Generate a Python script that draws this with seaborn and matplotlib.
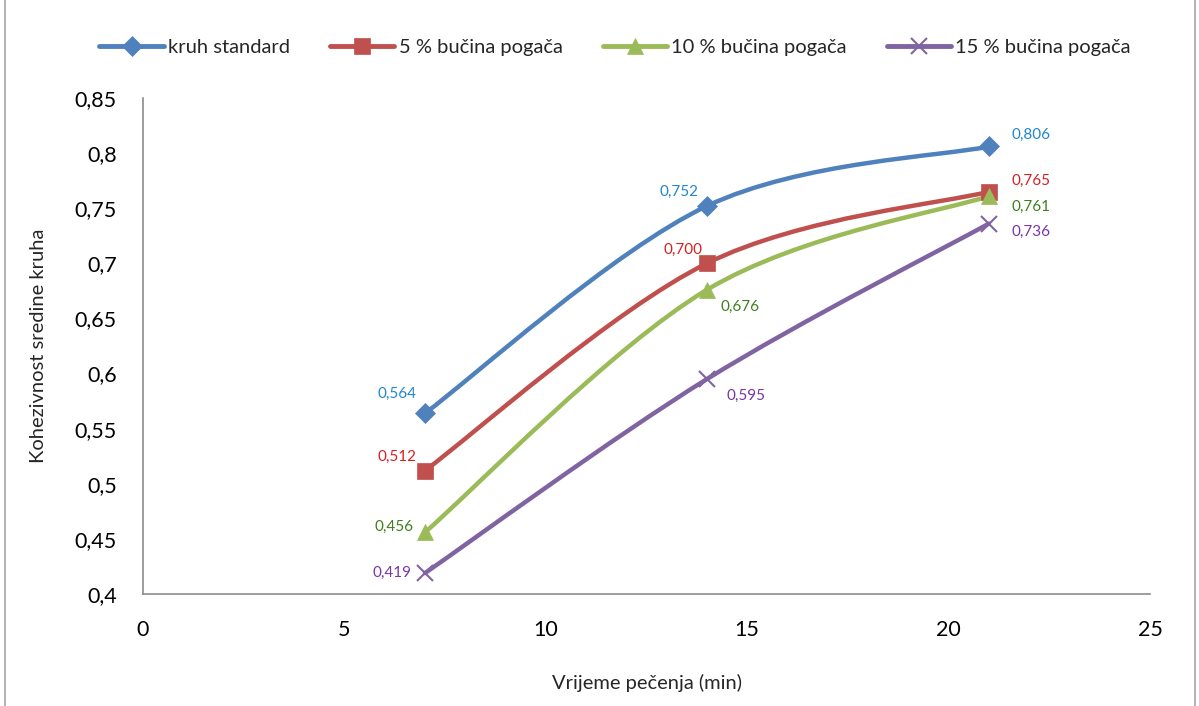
import numpy as np
import pandas as pd
import matplotlib
matplotlib.use('Agg')
import matplotlib.pyplot as plt
from matplotlib.path import Path
from matplotlib.patches import PathPatch, Rectangle
from matplotlib.ticker import FuncFormatter, MultipleLocator
import seaborn as sns

# data
vrijeme = [7, 14, 21]
standard = [0.564, 0.752, 0.806]
pogaca_5 = [0.512, 0.700, 0.765]
pogaca_10 = [0.456, 0.676, 0.761]
pogaca_15 = [0.419, 0.595, 0.736]
serije = ['kruh standard', '5 % bučina pogača', '10 % bučina pogača', '15 % bučina pogača']

sns.set_style('white')
plt.rcParams['font.family'] = ['Lato', 'DejaVu Sans']

boje = ['#4F81BD', '#C0504D', '#9BBB59', '#8064A2']
boje_tekst = ['#1F86CF', '#D42020', '#3F7F1F', '#7A34A8']
markeri = ['D', 's', '^', 'x']
vel = [10, 11, 11, 12]
# label offsets in points (dx, dy) per series per point
pomaci = [
    [(-20, 14), (-20, 10), (30, 8)],
    [(-20, 10), (-17, 10), (30, 8)],
    [(-22, 4), (24, -12), (30, -8)],
    [(-24, 0), (28, -12), (30, -6)],
]

df = pd.DataFrame({'vrijeme': vrijeme * 4,
                   'vrijednost': standard + pogaca_5 + pogaca_10 + pogaca_15,
                   'serija': np.repeat(serije, 3)})

fig = plt.figure(figsize=(11.99, 7.06), dpi=100)
ax = fig.add_axes([0.1193, 0.1586, 0.8398, 0.7026])


def glatka_putanja(xs, ys):
    # Excel-style smoothed line through the points (cubic Bezier segments)
    p = np.column_stack([xs, ys]).astype(float)
    ext = np.vstack([p[0], p, p[-1]])
    verts = [p[0]]
    codes = [Path.MOVETO]
    for i in range(len(p) - 1):
        p0, p1, p2, p3 = ext[i], ext[i + 1], ext[i + 2], ext[i + 3]
        c1 = p1 + (p2 - p0) / 6
        c2 = p2 - (p3 - p1) / 6
        verts += [c1, c2, p2]
        codes += [Path.CURVE4] * 3
    return Path(verts, codes)


for i, s in enumerate(serije):
    d = df[df['serija'] == s]
    ax.add_patch(PathPatch(glatka_putanja(d['vrijeme'], d['vrijednost']),
                           facecolor='none', edgecolor=boje[i], lw=3.2,
                           capstyle='round', zorder=2))
    sns.lineplot(data=d, x='vrijeme', y='vrijednost', ax=ax, color=boje[i],
                 marker=markeri[i], markersize=vel[i], linestyle='none',
                 markeredgecolor=boje[i], markeredgewidth=1.5 if markeri[i] == 'x' else 0.5,
                 label=s, legend=False, zorder=3)
    for j, (xv, yv) in enumerate(zip(d['vrijeme'], d['vrijednost'])):
        ax.annotate(f'{yv:.3f}'.replace('.', ','), (xv, yv),
                    xytext=pomaci[i][j], textcoords='offset points',
                    ha='center', va='center', fontsize=11, color=boje_tekst[i])

ax.set_xlim(0, 25)
ax.set_ylim(0.4, 0.85)
ax.xaxis.set_major_locator(MultipleLocator(5))
ax.yaxis.set_major_locator(MultipleLocator(0.05))
ax.yaxis.set_major_formatter(FuncFormatter(lambda v, p: f'{round(v, 2):g}'.replace('.', ',')))
ax.xaxis.set_major_formatter(FuncFormatter(lambda v, p: f'{v:g}'))
for sp in ['top', 'right']:
    ax.spines[sp].set_visible(False)
for sp in ['left', 'bottom']:
    ax.spines[sp].set_color('#8C8C8C')
    ax.spines[sp].set_linewidth(1.2)
ax.tick_params(axis='both', colors='#8C8C8C', labelcolor='black', labelsize=15.5,
               length=7, width=1.2, direction='out')
ax.tick_params(axis='x', pad=12)
ax.tick_params(axis='y', pad=12)
ax.set_xlabel('Vrijeme pečenja (min)', fontsize=14.5, labelpad=24)
ax.set_ylabel('Kohezivnost sredine kruha', fontsize=14.5, labelpad=20)

# legend with line + marker handles
h = [plt.Line2D([], [], color=boje[i], lw=3.5, marker=markeri[i], markersize=vel[i],
                markeredgewidth=1.5 if markeri[i] == 'x' else 0.5) for i in range(4)]
fig.legend(h, serije, loc='center', bbox_to_anchor=(0.513, 0.933), ncol=4, frameon=False,
           fontsize=14.5, handlelength=3.2, handletextpad=0.2, columnspacing=2.0)

fig.patches.append(Rectangle((0.004, -0.02), 0.993, 1.05, transform=fig.transFigure,
                             fill=False, edgecolor='#A6A6A6', lw=1.2))

fig.savefig('out.png', dpi=100)
